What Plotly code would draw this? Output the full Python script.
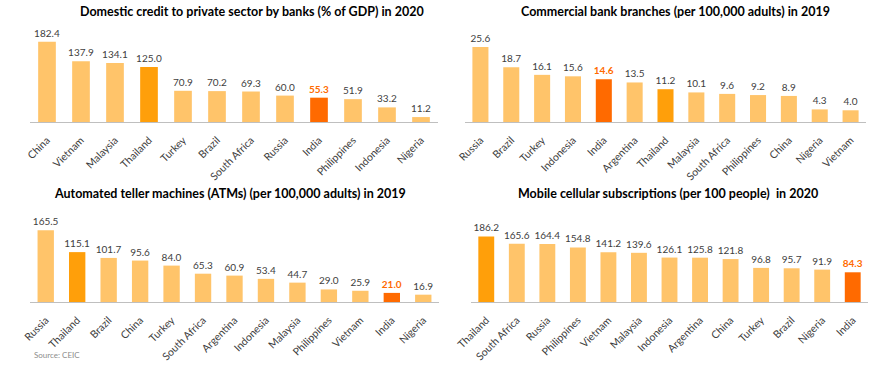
import plotly.graph_objects as go

W, H = 870, 372

c1 = ["China", "Vietnam", "Malaysia", "Thailand", "Turkey", "Brazil", "South Africa",
      "Russia", "India", "Philippines", "Indonesia", "Nigeria"]
v1 = [182.4, 137.9, 134.1, 125.0, 70.9, 70.2, 69.3, 60.0, 55.3, 51.9, 33.2, 11.2]
t1 = "Domestic credit to private sector by banks (% of GDP) in 2020"

c2 = ["Russia", "Brazil", "Turkey", "Indonesia", "India", "Argentina", "Thailand",
      "Malaysia", "South Africa", "Philippines", "China", "Nigeria", "Vietnam"]
v2 = [25.6, 18.7, 16.1, 15.6, 14.6, 13.5, 11.2, 10.1, 9.6, 9.2, 8.9, 4.3, 4.0]
t2 = "Commercial bank branches (per 100,000 adults) in 2019"

c3 = ["Russia", "Thailand", "Brazil", "China", "Turkey", "South Africa", "Argentina",
      "Indonesia", "Malaysia", "Philippines", "Vietnam", "India", "Nigeria"]
v3 = [165.5, 115.1, 101.7, 95.6, 84.0, 65.3, 60.9, 53.4, 44.7, 29.0, 25.9, 21.0, 16.9]
t3 = "Automated teller machines (ATMs) (per 100,000 adults) in 2019"

c4 = ["Thailand", "South Africa", "Russia", "Philippines", "Vietnam", "Malaysia",
      "Indonesia", "Argentina", "China", "Turkey", "Brazil", "Nigeria", "India"]
v4 = [186.2, 165.6, 164.4, 154.8, 141.2, 139.6, 126.1, 125.8, 121.8, 96.8, 95.7, 91.9, 84.3]
t4 = "Mobile cellular subscriptions (per 100 people)  in 2020"

source = "Source: CEIC"

LIGHT = "#FFC46A"
THAI = "#FF9F0A"
INDIA = "#FF6A00"
TXT = "#404040"
FONT = "Lato"

# panel geometry in pixels: (x0, x1, y_base, y_top, ymax, title_x, title_y)
panels = [
    (c1, v1, t1, (30, 438), (122, 34), 200, (252, 12)),
    (c2, v2, t2, (465, 866), (122, 40), 28, (675, 12)),
    (c3, v3, t3, (30, 439), (302, 224), 180, (230, 193)),
    (c4, v4, t4, (471, 868), (302, 228), 210, (668, 193)),
]

fig = go.Figure()
layout = dict(width=W, height=H, autosize=False, margin=dict(l=0, r=0, t=0, b=0, autoexpand=False),
              paper_bgcolor="white", plot_bgcolor="white", showlegend=False,
              bargap=0.48, annotations=[])

for i, (cats, vals, title, (x0, x1), (yb, yt), ymax, (tx, ty)) in enumerate(panels):
    n = i + 1
    xa = "x" if n == 1 else f"x{n}"
    ya = "y" if n == 1 else f"y{n}"
    colors = [INDIA if c == "India" else THAI if c == "Thailand" else LIGHT for c in cats]
    tcolors = [INDIA if c == "India" else TXT for c in cats]
    texts = [f"<b>{v:.1f}</b>" if c == "India" else f"{v:.1f}" for c, v in zip(cats, vals)]
    fig.add_trace(go.Bar(x=cats, y=vals, marker=dict(color=colors, line=dict(width=0)),
                         text=texts, textposition="outside", constraintext="none",
                         textfont=dict(family=FONT, size=10, color=tcolors),
                         cliponaxis=False, xaxis=xa, yaxis=ya, hoverinfo="skip"))
    xkey = "xaxis" if n == 1 else f"xaxis{n}"
    ykey = "yaxis" if n == 1 else f"yaxis{n}"
    layout[xkey] = dict(domain=[x0 / W, x1 / W], anchor=ya, showline=True,
                        linecolor="#BFBFBF", linewidth=1, ticks="", tickangle=-45,
                        ticklabelstandoff=7,
                        tickfont=dict(family=FONT, size=10.5, color=TXT), automargin=False,
                        showgrid=False, zeroline=False, fixedrange=True)
    layout[ykey] = dict(domain=[1 - yb / H, 1 - yt / H], anchor=xa, range=[0, ymax],
                        visible=False, showgrid=False, zeroline=False, fixedrange=True,
                        automargin=False)
    layout["annotations"].append(dict(text=f"<b>{title}</b>", x=tx / W, y=1 - ty / H,
                                      xref="paper", yref="paper", xanchor="center",
                                      yanchor="middle", showarrow=False,
                                      font=dict(family=FONT, size=12.5, color="#000000")))

layout["annotations"].append(dict(text=source, x=32 / W, y=1 - 355 / H, xref="paper",
                                  yref="paper", xanchor="left", yanchor="middle",
                                  showarrow=False,
                                  font=dict(family=FONT, size=8, color="#8C8C8C")))

fig.update_layout(**layout)
fig.write_html("out.html", config={"displayModeBar": False},
               post_script="document.body.style.margin='0';document.body.style.overflow='hidden';")
